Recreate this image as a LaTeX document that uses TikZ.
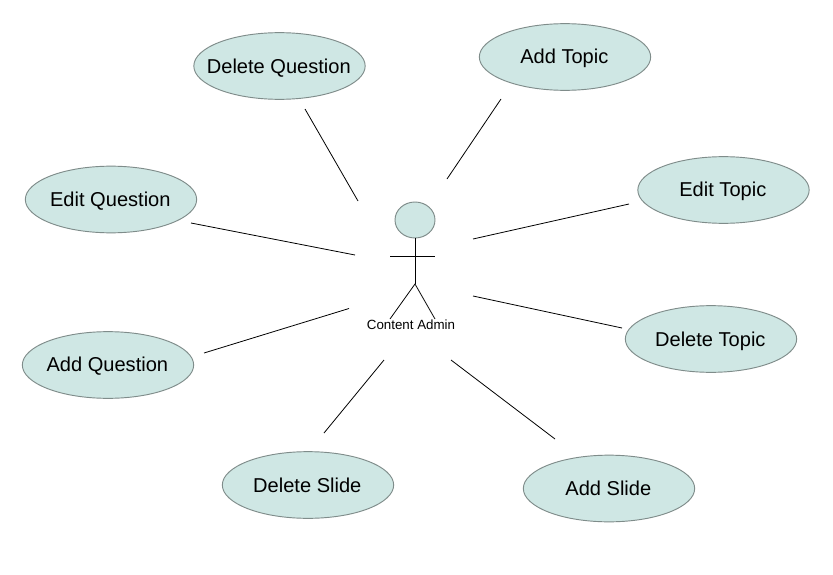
\documentclass[tikz,border=0pt]{standalone}
\usepackage{fontspec}
\setmainfont{Liberation Sans}
\usetikzlibrary{shapes.geometric}
\definecolor{ucfill}{HTML}{CFE7E4}
\definecolor{ucedge}{HTML}{7F8C8A}
\tikzset{
  usecase/.style={ellipse,draw=ucedge,fill=ucfill,line width=0.7pt,minimum width=128.5pt,minimum height=50pt,inner sep=-12pt,text height=13.8pt,text depth=3pt,font=\fontsize{15.05}{18}\selectfont,text=black,execute at end node={\kern1pt}},
  raised/.style={text depth=4.3pt},
  head/.style={ellipse,draw=ucedge,fill=ucfill,line width=0.7pt,minimum width=30pt,minimum height=27pt,inner sep=0pt},
  link/.style={draw=black,line width=0.6pt},
  stick/.style={draw=black,line width=0.6pt},
  actorlabel/.style={font=\fontsize{10}{12}\selectfont,inner sep=0pt,text=black}
}
\begin{document}
\begin{tikzpicture}[x=0.75pt,y=-0.75pt]
\useasboundingbox (0,0) rectangle (833,575);
\fill[white] (0,0) rectangle (833,575);
\node[usecase] (dq) at (279.5,66) {Delete Question};
\node[usecase,raised] (at) at (565,57) {Add Topic};
\node[usecase,raised] (et) at (723.5,190) {Edit Topic};
\node[usecase] (dt) at (711,339) {Delete Topic};
\node[usecase] (as) at (609,488.5) {Add Slide};
\node[usecase] (ds) at (308,485) {Delete Slide};
\node[usecase,raised] (aq) at (108,365) {Add Question};
\node[usecase] (eq) at (111,199.5) {Edit Question};
\node[head] (hd) at (415,220) {};
\coordinate (hip) at (415,284);
\coordinate (arml) at (390,256);
\coordinate (armr) at (435,256);
\coordinate (legl) at (390,319);
\coordinate (legr) at (435,319);
\draw[stick] (hd.south) -- (hip);
\draw[stick] (arml) -- (armr);
\draw[stick] (legl) -- (hip) -- (legr);
\node[actorlabel] (lab) at (411,325) {Content Admin};
\coordinate (a1) at (305,109); \coordinate (b1) at (358,201);
\coordinate (a2) at (501,99); \coordinate (b2) at (447,179);
\coordinate (a3) at (629,204); \coordinate (b3) at (473,239);
\coordinate (a4) at (622,328); \coordinate (b4) at (473,296);
\coordinate (a5) at (555,439); \coordinate (b5) at (451,360);
\coordinate (a6) at (324,433); \coordinate (b6) at (384,360);
\coordinate (a7) at (204,353); \coordinate (b7) at (349,308.5);
\coordinate (a8) at (191,223); \coordinate (b8) at (355,255);
\foreach \i in {1,...,8} \draw[link] (a\i) -- (b\i);
\end{tikzpicture}
\end{document}
